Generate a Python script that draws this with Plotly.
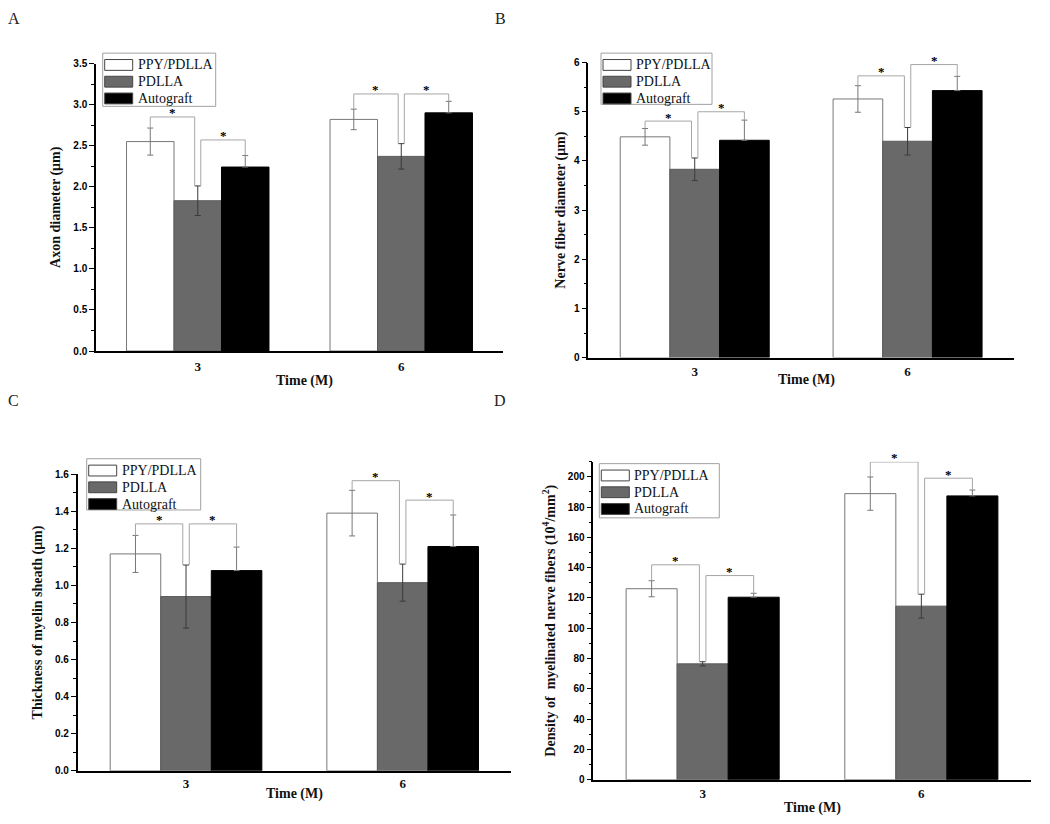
import plotly.graph_objects as go

W, H = 1050, 824
PAGE_OFF = 8  # browser body margin; layout below is given in page pixels

time_labels = ["3", "6"]
group_names = ["PPY/PDLLA", "PDLLA", "Autograft"]

# A - axon diameter (um)
axon_ppy = [2.55, 2.82]
axon_ppy_err = [0.165, 0.125]
axon_pdlla = [1.83, 2.37]
axon_pdlla_err = [0.18, 0.155]
axon_auto = [2.24, 2.90]
axon_auto_err = [0.14, 0.14]
axon_sig_left = [2.85, 3.13]
axon_sig_right = [2.57, 3.13]

# B - nerve fiber diameter (um)
fiber_ppy = [4.49, 5.26]
fiber_ppy_err = [0.17, 0.27]
fiber_pdlla = [3.83, 4.40]
fiber_pdlla_err = [0.23, 0.28]
fiber_auto = [4.42, 5.43]
fiber_auto_err = [0.41, 0.29]
fiber_sig_left = [4.81, 5.73]
fiber_sig_right = [5.00, 5.96]

# C - myelin sheath thickness (um)
myelin_ppy = [1.17, 1.39]
myelin_ppy_err = [0.10, 0.123]
myelin_pdlla = [0.94, 1.015]
myelin_pdlla_err = [0.17, 0.10]
myelin_auto = [1.08, 1.21]
myelin_auto_err = [0.127, 0.17]
myelin_sig_left = [1.332, 1.565]
myelin_sig_right = [1.332, 1.46]

# D - density of myelinated fibers (10^4/mm^2)
density_ppy = [126.1, 188.9]
density_ppy_err = [5.3, 11.0]
density_pdlla = [76.5, 114.6]
density_pdlla_err = [1.4, 7.9]
density_auto = [120.5, 187.4]
density_auto_err = [2.6, 3.9]
density_sig_left = [141.9, 209.8]
density_sig_right = [134.8, 199.1]

BAR_COLORS = ["#ffffff", "#696969", "#000000"]
BAR_LINES = ["#777777", "#5a5a5a", "#000000"]
ERR_COLORS = ["#777777", "#3a3a3a", "#777777"]
BARGAP = 0.3
SERIF = "Liberation Serif"
SANS = "Liberation Sans"


def px(x):
    return (x - PAGE_OFF) / W


def py(y):
    return 1 - (y - PAGE_OFF) / H


panels = [
    {
        "letter": "A", "letter_pos": (14, 13), "ax": "",
        "xdom": (96, 503), "ydom": (58.3, 350),
        "range": [0, 3.5], "dtick": 0.5, "minor": 0.25, "fmt": ".1f",
        "ytitle": "Axon diameter (μm)", "ystand": 9,
        "tick_stand": 3, "xtitle_shift": (5, 30),
        "means": [axon_ppy, axon_pdlla, axon_auto],
        "errs": [axon_ppy_err, axon_pdlla_err, axon_auto_err],
        "sig": [axon_sig_left, axon_sig_right],
        "legend": (102.7, 47.7, 113, 54),
    },
    {
        "letter": "B", "letter_pos": (500, 13), "ax": "2",
        "xdom": (588.3, 1014), "ydom": (57.3, 356.7),
        "range": [0, 6], "dtick": 1, "minor": 0.5, "fmt": "d",
        "ytitle": "Nerve fiber diameter (μm)", "ystand": 5,
        "tick_stand": 1, "xtitle_shift": (5, 22),
        "means": [fiber_ppy, fiber_pdlla, fiber_auto],
        "errs": [fiber_ppy_err, fiber_pdlla_err, fiber_auto_err],
        "sig": [fiber_sig_left, fiber_sig_right],
        "legend": (601, 47.7, 111, 52),
    },
    {
        "letter": "C", "letter_pos": (13, 400), "ax": "3",
        "xdom": (77.7, 511), "ydom": (475, 776),
        "range": [0, 1.6], "dtick": 0.2, "minor": 0.1, "fmt": ".1f",
        "ytitle": "Thickness of myelin sheath (μm)", "ystand": 9,
        "tick_stand": 0, "xtitle_shift": (0, 23),
        "means": [myelin_ppy, myelin_pdlla, myelin_auto],
        "errs": [myelin_ppy_err, myelin_pdlla_err, myelin_auto_err],
        "sig": [myelin_sig_left, myelin_sig_right],
        "legend": (86.7, 459.3, 114, 52),
    },
    {
        "letter": "D", "letter_pos": (500, 400), "ax": "4",
        "xdom": (593.3, 1030.7), "ydom": (462.3, 785),
        "range": [0, 210], "dtick": 20, "minor": 10, "fmt": "d",
        "ytitle": "Density of\u00a0 myelinated nerve fibers (10<sup>4</sup>/mm<sup>2</sup>)",
        "ystand": 9, "tick_stand": 1, "xtitle_shift": (0, 28),
        "means": [density_ppy, density_pdlla, density_auto],
        "errs": [density_ppy_err, density_pdlla_err, density_auto_err],
        "sig": [density_sig_left, density_sig_right],
        "legend": (599.3, 464.3, 120, 55),
    },
]

fig = go.Figure()
layout = {}
shapes = []
annotations = []

time_pos = list(range(len(time_labels)))
bar_w = (1 - BARGAP) / len(group_names)
leg_off = 0.015

for p in panels:
    xa, ya = "x" + p["ax"], "y" + p["ax"]

    for i, name in enumerate(group_names):
        err = dict(type="data", array=p["errs"][i], color=ERR_COLORS[i],
                   thickness=1, width=3)
        if i == 2:
            err.update(symmetric=False, arrayminus=[0] * len(time_pos))
        fig.add_trace(go.Bar(
            x=time_pos, y=p["means"][i], name=name, xaxis=xa, yaxis=ya,
            marker=dict(color=BAR_COLORS[i], line=dict(color=BAR_LINES[i], width=1)),
            error_y=err, showlegend=False, offsetgroup=str(i),
        ))

    # significance brackets: PPY vs PDLLA, PDLLA vs Autograft
    for t in time_pos:
        tops = [p["means"][i][t] + p["errs"][i][t] for i in range(3)]
        centers = [t + (i - 1) * bar_w for i in range(3)]
        pairs = [(0, 1, -leg_off, p["sig"][0][t]), (1, 2, leg_off, p["sig"][1][t])]
        for a, b, off, h in pairs:
            xl = centers[a] + (off if a == 1 else 0)
            xr = centers[b] + (off if b == 1 else 0)
            fig.add_trace(go.Scatter(
                x=[xl, xl, xr, xr], y=[tops[a], h, h, tops[b]],
                mode="lines", line=dict(color="#a6a6a6", width=1),
                xaxis=xa, yaxis=ya, showlegend=False, hoverinfo="skip",
                cliponaxis=False,
            ))
            annotations.append(dict(
                x=(xl + xr) / 2, y=h, xref=xa, yref=ya, text="*",
                showarrow=False, xanchor="center", yanchor="middle", yshift=4,
                font=dict(family=SERIF, size=13, color="black", weight="bold"),
            ))

    x0, x1 = p["xdom"]
    y0, y1 = p["ydom"]
    layout["xaxis" + p["ax"]] = dict(
        domain=[px(x0), px(x1)], anchor=ya, range=[-0.5, 1.5],
        tickvals=time_pos, ticktext=time_labels, ticks="",
        showline=True, linecolor="black", linewidth=1.5,
        showgrid=False, zeroline=False, ticklabelstandoff=p["tick_stand"],
        tickfont=dict(family=SERIF, size=13, color="#111", weight="bold"),
    )
    layout["yaxis" + p["ax"]] = dict(
        domain=[py(y1), py(y0)], anchor=xa, range=p["range"],
        dtick=p["dtick"], tick0=0, tickformat=p["fmt"],
        ticks="outside", ticklen=5, tickwidth=1, tickcolor="black",
        minor=dict(ticks="outside", ticklen=3, dtick=p["minor"], tick0=0,
                   tickcolor="black"),
        showline=True, linecolor="black", linewidth=1.5,
        showgrid=False, zeroline=False,
        tickfont=dict(family=SANS, size=10, color="black", weight="bold"),
        title=dict(text=p["ytitle"], standoff=p["ystand"],
                   font=dict(family=SERIF, size=14, color="#111", weight="bold")),
    )

    # x-axis title placed as annotation so it can sit close to the tick row
    dx, dy = p["xtitle_shift"]
    annotations.append(dict(
        x=0.5, y=0, xref=xa + " domain", yref=ya + " domain", text="Time (M)",
        showarrow=False, xanchor="center", yanchor="middle",
        xshift=dx, yshift=-dy,
        font=dict(family=SERIF, size=14, color="#111", weight="bold"),
    ))

    # hand-drawn legend box with wide swatches
    bx, by, bw, bh = p["legend"]
    shapes.append(dict(type="rect", xref="paper", yref="paper",
                       x0=px(bx), x1=px(bx + bw), y0=py(by + bh), y1=py(by),
                       line=dict(color="#a0a0a0", width=1), fillcolor="white"))
    for i, name in enumerate(group_names):
        cy = by + 12 + i * 17
        shapes.append(dict(type="rect", xref="paper", yref="paper",
                           x0=px(bx + 2), x1=px(bx + 30),
                           y0=py(cy + 5.5), y1=py(cy - 5.5),
                           line=dict(color="#444", width=1),
                           fillcolor=BAR_COLORS[i]))
        annotations.append(dict(
            x=px(bx + 33), y=py(cy), xref="paper", yref="paper", text=name,
            showarrow=False, xanchor="left", yanchor="middle",
            font=dict(family=SERIF, size=14, color="#111"),
        ))

    lx, ly = p["letter_pos"]
    annotations.append(dict(
        x=px(lx), y=py(ly), xref="paper", yref="paper", text=p["letter"],
        showarrow=False, xanchor="center", yanchor="middle",
        font=dict(family=SERIF, size=16, color="#222"),
    ))

fig.update_layout(
    width=W, height=H,
    margin=dict(l=0, r=0, t=0, b=0),
    paper_bgcolor="white", plot_bgcolor="white",
    barmode="group", bargap=BARGAP, bargroupgap=0,
    shapes=shapes, annotations=annotations,
    **layout,
)

fig.write_html("out.html")
